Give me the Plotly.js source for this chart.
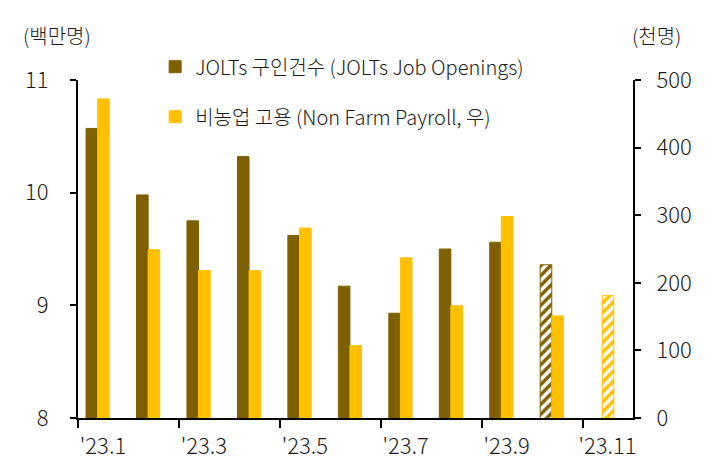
<!DOCTYPE html>
<html>
<head>
<meta charset="utf-8">
<script src="https://cdn.plot.ly/plotly-3.0.1.min.js"></script>
<style>
  html, body { margin: 0; padding: 0; background: #fff; }
  #chart { width: 715px; height: 461px; }
</style>
</head>
<body>
<div id="chart"></div>
<script>
// months on the x axis, every other one gets a label
const months = ["'23.1", "'23.2", "'23.3", "'23.4", "'23.5", "'23.6", "'23.7", "'23.8", "'23.9", "'23.10", "'23.11"]

// JOLTs job openings, millions (left axis)
const joltsOpenings = [10.57, 9.98, 9.75, 10.32, 9.62, 9.17, 8.93, 9.50, 9.56, 9.36, null]
// non farm payroll, thousands (right axis)
const nonFarmPayroll = [472, 249, 218, 218, 281, 107, 237, 166, 298, 151, 181]

// hatched bars = estimate
const joltsEstimate = [false, false, false, false, false, false, false, false, false, true, false]
const payrollEstimate = [false, false, false, false, false, false, false, false, false, false, true]

const BROWN = '#7f6000'
const GOLD = '#ffc000'
const FONT = '"Noto Sans CJK KR", "Noto Sans", sans-serif'

const xIdx = months.map((m, i) => i)
const labelIdx = xIdx.filter(i => i % 2 === 0)

const hatch = flags => ({
  shape: flags.map(f => (f ? '/' : '')),
  fillmode: 'overlay',
  fgcolor: '#ffffff',
  fgopacity: 1,
  size: 7,
  solidity: 0.5,
})

const data = [
  {
    type: 'bar',
    name: 'JOLTs 구인건수 (JOLTs Job Openings)',
    x: xIdx,
    y: joltsOpenings,
    xaxis: 'x',
    yaxis: 'y',
    width: 0.23,
    offset: -0.34,
    marker: { color: BROWN, line: { color: BROWN, width: 1 }, pattern: hatch(joltsEstimate) },
    legendgroup: 'a',
    hoverinfo: 'skip',
  },
  {
    type: 'bar',
    name: '비농업 고용 (Non Farm Payroll, 우)',
    x: xIdx,
    y: nonFarmPayroll,
    xaxis: 'x',
    yaxis: 'y2',
    width: 0.23,
    offset: -0.11,
    marker: { color: GOLD, line: { color: GOLD, width: 1 }, pattern: hatch(payrollEstimate) },
    legendgroup: 'b',
    hoverinfo: 'skip',
  },
]

const axisCommon = {
  showline: true,
  linecolor: '#000',
  linewidth: 2,
  ticks: 'outside',
  tickwidth: 2,
  tickcolor: '#000',
  showgrid: false,
  zeroline: false,
  fixedrange: true,
  tickfont: { family: FONT, size: 22, weight: 300, color: '#1a1a1a' },
}

const layout = {
  width: 715,
  height: 461,
  margin: { l: 78, r: 82, t: 80, b: 43 },
  paper_bgcolor: '#fff',
  plot_bgcolor: '#fff',
  font: { family: FONT, size: 20, weight: 300, color: '#1a1a1a' },
  barmode: 'overlay',
  showlegend: true,
  legend: {
    x: 0.139,
    y: 1.097,
    xanchor: 'left',
    yanchor: 'top',
    bgcolor: 'rgba(0,0,0,0)',
    traceorder: 'grouped',
    tracegroupgap: 21,
    font: { family: FONT, size: 20, weight: 300, color: '#1a1a1a' },
  },
  xaxis: {
    ...axisCommon,
    range: [-0.5, 10.5],
    tickvals: labelIdx.map(i => i - 0.5),
    ticktext: labelIdx.map(i => months[i]),
    ticklen: 8,
    ticklabelshift: 25,
    ticklabelstandoff: 0,
  },
  yaxis: {
    ...axisCommon,
    range: [8, 11],
    dtick: 1,
    ticklen: 6,
    ticklabelstandoff: 17,
  },
  yaxis2: {
    ...axisCommon,
    overlaying: 'y',
    side: 'right',
    range: [0, 500],
    dtick: 100,
    ticklen: 6,
    ticklabelstandoff: 11,
  },
  annotations: [
    { text: '(백만명)', xref: 'paper', yref: 'paper', x: -0.038, y: 1.133, showarrow: false, xanchor: 'center', yanchor: 'middle' },
    { text: '(천명)', xref: 'paper', yref: 'paper', x: 1.043, y: 1.133, showarrow: false, xanchor: 'center', yanchor: 'middle' },
  ],
}

const config = { displayModeBar: false, staticPlot: true }

Plotly.newPlot('chart', data, layout, config)
</script>
</body>
</html>
